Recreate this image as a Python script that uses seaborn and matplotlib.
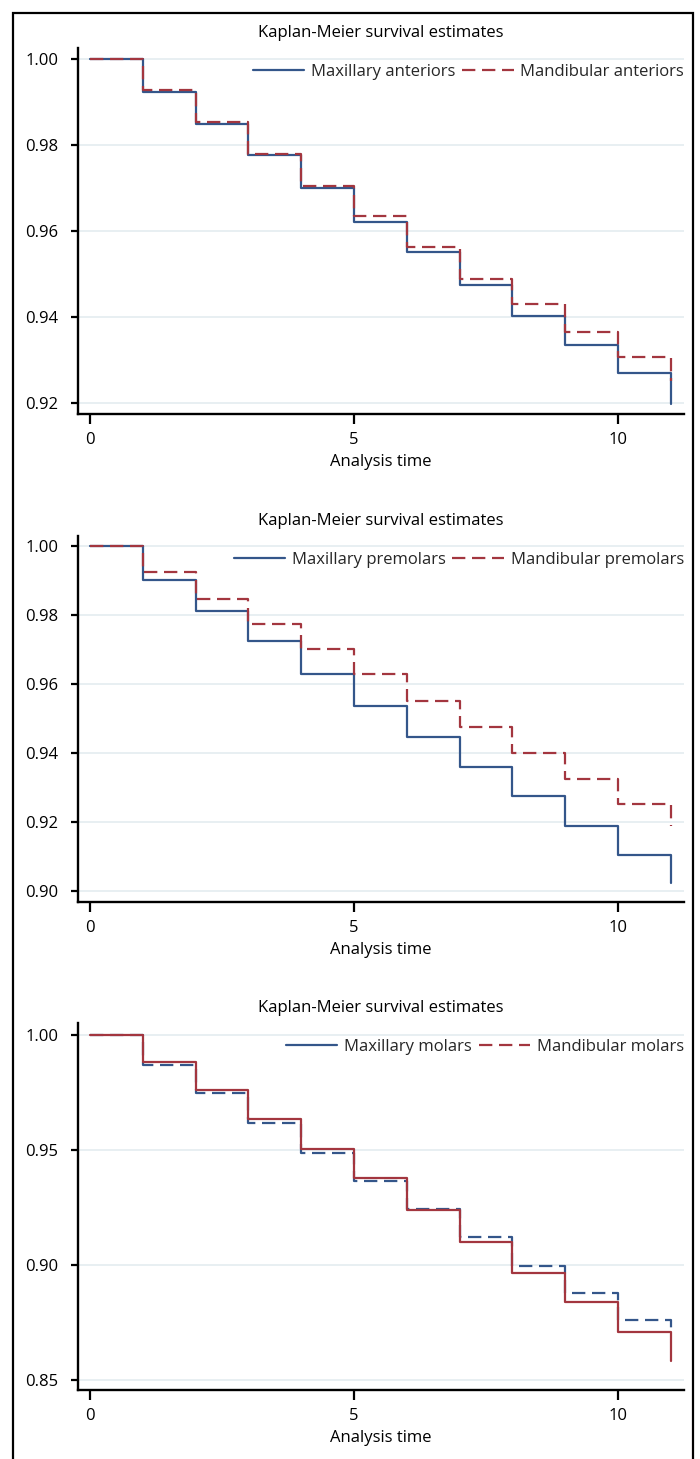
import matplotlib
matplotlib.use("Agg")
import matplotlib.pyplot as plt
import seaborn as sns
import pandas as pd
from matplotlib.lines import Line2D
from matplotlib.patches import Rectangle
from matplotlib.ticker import FormatStrFormatter

sns.set_theme(style="white")
plt.rcParams["font.family"] = ["Open Sans", "DejaVu Sans"]

# ---------------- data ----------------
times = [0, 1, 2, 3, 4, 5, 6, 7, 8, 9, 10, 11]

max_anteriors = [1.0, 0.9923, 0.9848, 0.9776, 0.9699, 0.9621, 0.9550, 0.9475, 0.9403, 0.9335, 0.9269, 0.9198]
mand_anteriors = [1.0, 0.9929, 0.9854, 0.9780, 0.9705, 0.9635, 0.9563, 0.9488, 0.9430, 0.9366, 0.9307, 0.9250]

max_premolars = [1.0, 0.9901, 0.9811, 0.9724, 0.9630, 0.9535, 0.9446, 0.9358, 0.9274, 0.9187, 0.9103, 0.9022]
mand_premolars = [1.0, 0.9925, 0.9847, 0.9774, 0.9701, 0.9629, 0.9550, 0.9475, 0.9400, 0.9326, 0.9253, 0.9188]

max_molars = [1.0, 0.9868, 0.9746, 0.9616, 0.9486, 0.9364, 0.9243, 0.9123, 0.8996, 0.8876, 0.8759, 0.8725]
mand_molars = [1.0, 0.9879, 0.9759, 0.9633, 0.9503, 0.9377, 0.9238, 0.9100, 0.8966, 0.8839, 0.8708, 0.8584]

labels_1 = ["Maxillary anteriors", "Mandibular anteriors"]
labels_2 = ["Maxillary premolars", "Mandibular premolars"]
labels_3 = ["Maxillary molars", "Mandibular molars"]

yticks_1 = [0.92, 0.94, 0.96, 0.98, 1.00]
yticks_2 = [0.90, 0.92, 0.94, 0.96, 0.98, 1.00]
yticks_3 = [0.85, 0.90, 0.95, 1.00]
xticks = [0, 5, 10]

title = "Kaplan-Meier survival estimates"
xlabel = "Analysis time"

BLUE = "#34568a"
RED = "#a3363f"
GRID = "#e6eef1"
SOLID = "-"
DASH = (0, (6, 3))
FS = 12
LW = 1.6

W, H = 700, 1459
fig = plt.figure(figsize=(W / 100, H / 100), dpi=100)

panels = [
    dict(series=[max_anteriors, mand_anteriors], labels=labels_1,
         styles=[SOLID, DASH], legend_styles=[SOLID, DASH],
         yticks=yticks_1, ylim=(0.9174, 1.0026), top=48, bottom=414),
    dict(series=[max_premolars, mand_premolars], labels=labels_2,
         styles=[SOLID, DASH], legend_styles=[SOLID, DASH],
         yticks=yticks_2, ylim=(0.8968, 1.0029), top=536, bottom=902),
    dict(series=[max_molars, mand_molars], labels=labels_3,
         styles=[DASH, SOLID], legend_styles=[SOLID, DASH],
         yticks=yticks_3, ylim=(0.8457, 1.0050), top=1023, bottom=1390),
]

left_px, right_px = 78, 684
colors = [BLUE, RED]

for p in panels:
    ax = fig.add_axes([left_px / W, 1 - p["bottom"] / H,
                       (right_px - left_px) / W, (p["bottom"] - p["top"]) / H])
    for vals, lab, col, ls in zip(p["series"], p["labels"], colors, p["styles"]):
        df = pd.DataFrame({"time": times, "survival": vals})
        sns.lineplot(data=df, x="time", y="survival", ax=ax, color=col,
                     linestyle=ls, linewidth=LW, drawstyle="steps-post",
                     estimator=None, sort=False, legend=False)
    ax.set_xlim(-0.227, 11.25)
    ax.set_ylim(*p["ylim"])
    ax.set_xticks(xticks)
    ax.set_yticks(p["yticks"])
    ax.yaxis.set_major_formatter(FormatStrFormatter("%.2f"))
    ax.set_axisbelow(True)
    ax.yaxis.grid(True, color=GRID, linewidth=1.3)
    ax.xaxis.grid(False)
    for s in ["top", "right"]:
        ax.spines[s].set_visible(False)
    for s in ["left", "bottom"]:
        ax.spines[s].set_color("black")
        ax.spines[s].set_linewidth(1.7)
    ax.tick_params(axis="y", left=True, length=5, width=1.6, pad=9,
                   labelsize=FS, color="black", labelcolor="black")
    ax.tick_params(axis="x", bottom=True, length=7, width=1.6, pad=6,
                   labelsize=FS, color="black", labelcolor="black")
    ax.set_xlabel(xlabel, fontsize=FS, labelpad=4, color="black")
    ax.set_ylabel("")
    ax.set_title(title, fontsize=FS, pad=8, color="black")
    handles = [Line2D([0], [0], color=c, linestyle=ls, linewidth=LW)
               for c, ls in zip(colors, p["legend_styles"])]
    ax.legend(handles, p["labels"], loc="center right",
              bbox_to_anchor=(1.0, 0.934), ncol=2, frameon=False,
              fontsize=FS, handlelength=3.1, handletextpad=0.4,
              columnspacing=0.4, borderpad=0, borderaxespad=0)

fig.patches.append(Rectangle((13 / W, -0.01), (693 - 13) / W, 1 - 13 / H + 0.01,
                             transform=fig.transFigure, fill=False,
                             edgecolor="black", linewidth=1.6))

fig.savefig("out.png", dpi=100)
